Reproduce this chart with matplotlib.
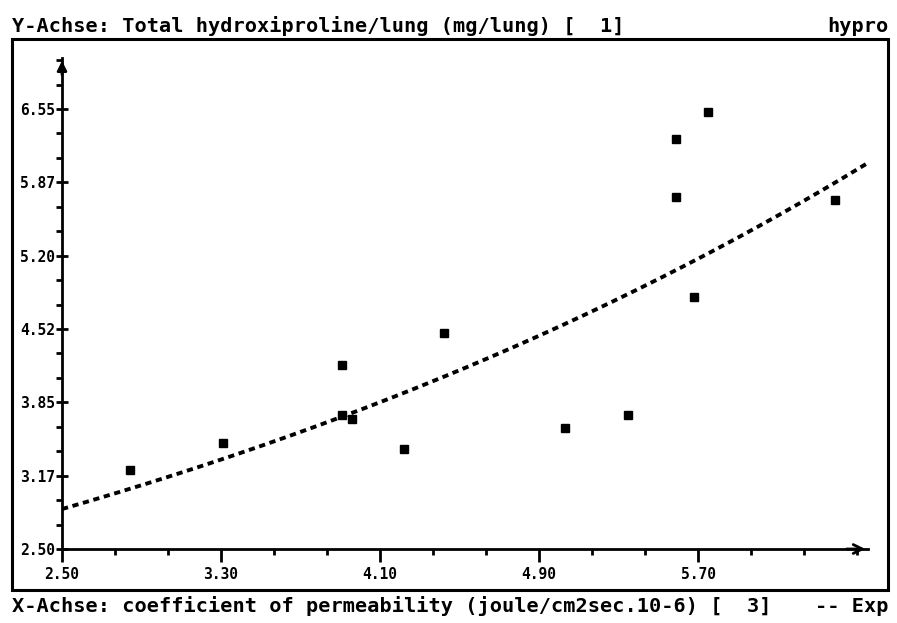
import numpy as np
import matplotlib
matplotlib.use("Agg")
import matplotlib.pyplot as plt
from matplotlib.patches import Rectangle
from matplotlib.ticker import MultipleLocator, FixedLocator

# measured points: permeability vs hydroxiproline
perm = [2.84, 3.31, 3.91, 3.91, 3.96, 4.22, 4.42, 5.03, 5.35, 5.59, 5.59, 5.75, 5.68, 6.39]
hypro = [3.23, 3.48, 4.19, 3.73, 3.70, 3.42, 4.49, 3.61, 3.73, 6.27, 5.74, 6.52, 4.82, 5.71]

# exponential fit y = a * exp(b * x)
fit_a = 1.809
fit_b = 0.1843

xticks = [2.50, 3.30, 4.10, 4.90, 5.70]
xticklabels = ["2.50", "3.30", "4.10", "4.90", "5.70"]
yticks = [2.50, 3.175, 3.85, 4.525, 5.20, 5.875, 6.55]
yticklabels = ["2.50", "3.17", "3.85", "4.52", "5.20", "5.87", "6.55"]

W, H = 897, 623
fig = plt.figure(figsize=(W / 100, H / 100), dpi=100)
font = dict(family="DejaVu Sans Mono", weight="bold")

ax = fig.add_axes([62 / W, 1 - 549 / H, 806 / W, 491 / H])
ax.set_xlim(2.5, 6.555)
ax.set_ylim(2.5, 7.02)

xs = np.linspace(2.5, 6.55, 200)
ax.plot(xs, fit_a * np.exp(fit_b * xs), color="black", lw=2.8,
        linestyle=(0, (1.6, 1.2)), dash_capstyle="butt")
ax.plot(perm, hypro, "s", color="black", ms=5.5)

for s in ["top", "right"]:
    ax.spines[s].set_visible(False)
for s in ["left", "bottom"]:
    ax.spines[s].set_linewidth(2)

ax.annotate("", xy=(1.0, 0), xytext=(0.97, 0), xycoords="axes fraction",
            arrowprops=dict(arrowstyle="->", lw=2, color="black",
                            mutation_scale=16))
ax.annotate("", xy=(0, 1.0), xytext=(0, 0.96), xycoords="axes fraction",
            arrowprops=dict(arrowstyle="-|>", lw=2, color="black",
                            mutation_scale=14))

ax.xaxis.set_major_locator(FixedLocator(xticks))
ax.set_xticklabels(xticklabels, **font, fontsize=10.5)
ax.xaxis.set_minor_locator(MultipleLocator(0.8 / 3, offset=2.5))
ax.yaxis.set_major_locator(FixedLocator(yticks))
ax.set_yticklabels(yticklabels, **font, fontsize=10.5)
ax.yaxis.set_minor_locator(MultipleLocator(0.225, offset=2.5))

ax.tick_params(axis="x", which="major", direction="out", length=9, width=2, pad=4)
ax.tick_params(axis="x", which="minor", direction="out", length=4, width=2)
ax.tick_params(axis="y", which="major", direction="inout", length=8, width=2, pad=1)
ax.tick_params(axis="y", which="minor", direction="out", length=4, width=2)

# outer frame
fig.add_artist(Rectangle((12 / W, 1 - 590 / H), 876 / W, 551 / H,
                         transform=fig.transFigure, fill=False, lw=2.2,
                         color="black"))

fig.text(12 / W, 1 - 32 / H,
         "Y-Achse: Total hydroxiproline/lung (mg/lung) [  1]",
         ha="left", va="baseline", fontsize=14.6, **font)
fig.text(888 / W, 1 - 32 / H, "hypro", ha="right", va="baseline",
         fontsize=14.6, **font)
fig.text(12 / W, 1 - 612 / H,
         "X-Achse: coefficient of permeability (joule/cm2sec.10-6) [  3]",
         ha="left", va="baseline", fontsize=14.6, **font)
fig.text(888 / W, 1 - 612 / H, "-- Exp", ha="right", va="baseline",
         fontsize=14.6, **font)

fig.savefig("out.png", dpi=100, facecolor="white")
